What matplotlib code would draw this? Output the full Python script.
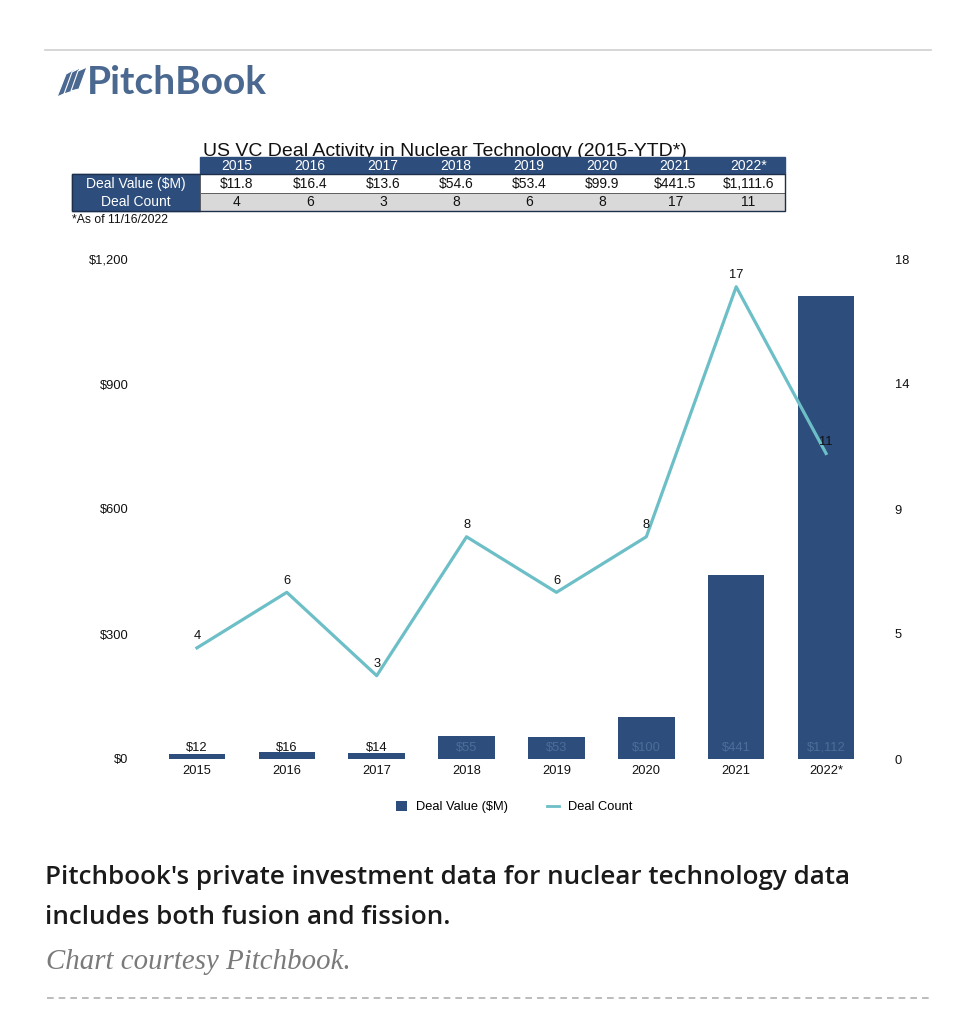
import matplotlib
matplotlib.use("Agg")
import matplotlib.pyplot as plt
from matplotlib.patches import Rectangle, Polygon
from matplotlib.lines import Line2D
from matplotlib.ticker import FuncFormatter

# ---------------- data ----------------
years = ["2015", "2016", "2017", "2018", "2019", "2020", "2021", "2022*"]
deal_value = [11.8, 16.4, 13.6, 54.6, 53.4, 99.9, 441.5, 1111.6]
deal_count = [4, 6, 3, 8, 6, 8, 17, 11]
deal_value_text = ["$11.8", "$16.4", "$13.6", "$54.6", "$53.4", "$99.9", "$441.5", "$1,111.6"]
bar_labels = ["$12", "$16", "$14", "$55", "$53", "$100", "$441", "$1,112"]
left_ticks = [0, 300, 600, 900, 1200]
right_ticks = [0, 4.5, 9, 13.5, 18]
right_tick_labels = ["0", "5", "9", "14", "18"]

NAVY = "#2d4e7c"
TEAL = "#6dbfc7"
LOGO = "#4b6990"
W, H = 977, 1024

fig = plt.figure(figsize=(W / 100, H / 100), dpi=100)
fig.patch.set_facecolor("white")

# full-figure overlay in pixel coordinates for page decoration
bg = fig.add_axes([0, 0, 1, 1], zorder=0)
bg.set_xlim(0, W)
bg.set_ylim(H, 0)
bg.axis("off")

# top rule
bg.plot([45, 931], [50, 50], color="#cfcfcf", lw=1.2)

# logo icon (sail shapes)
bg.add_patch(Polygon([(57, 97), (66, 74), (75, 69), (66, 93)], closed=True,
                     facecolor=LOGO, edgecolor="white", lw=0.8))
bg.add_patch(Polygon([(64, 94), (72, 72), (80, 68), (73, 91)], closed=True,
                     facecolor=LOGO, edgecolor="white", lw=0.8))
bg.add_patch(Polygon([(71, 91), (78, 71), (87, 67), (79, 89)], closed=True,
                     facecolor=LOGO, edgecolor="white", lw=0.8))
bg.text(87, 82, "PitchBook", fontsize=28, color=LOGO, fontfamily="Lato",
        fontweight="bold", va="center", ha="left")

# ---------------- table ----------------
tx0, tx1 = 200, 785
lx0 = 72
cw = (tx1 - tx0) / len(years)
hy0, hy1 = 157, 174
r1y0, r1y1 = 174, 193
r2y0, r2y1 = 193, 211
tfont = dict(fontfamily="Liberation Sans", fontsize=10)

bg.text((tx0 + tx1) / 2 - 48, 160, "US VC Deal Activity in Nuclear Technology (2015-YTD*)",
        fontfamily="Liberation Sans", fontsize=14, color="#111", ha="center",
        va="bottom", zorder=1)
bg.add_patch(Rectangle((tx0, hy0), tx1 - tx0, hy1 - hy0, facecolor=NAVY, edgecolor=NAVY, zorder=2))
bg.add_patch(Rectangle((lx0, r1y0), tx0 - lx0, r2y1 - r1y0, facecolor=NAVY, edgecolor=NAVY, zorder=2))
bg.add_patch(Rectangle((tx0, r1y0), tx1 - tx0, r1y1 - r1y0, facecolor="white", edgecolor="#555", lw=0.6, zorder=2))
bg.add_patch(Rectangle((tx0, r2y0), tx1 - tx0, r2y1 - r2y0, facecolor="#d9d9d9", edgecolor="#555", lw=0.6, zorder=2))
bg.add_patch(Rectangle((lx0, hy1), tx1 - lx0, r2y1 - hy1, facecolor="none", edgecolor="#1d2f4a", lw=1.0, zorder=3))
for i, y in enumerate(years):
    cx = tx0 + cw * (i + 0.5)
    bg.text(cx, (hy0 + hy1) / 2 + 0.5, y, color="white", ha="center", va="center", zorder=4, **tfont)
    bg.text(cx, (r1y0 + r1y1) / 2 + 0.5, deal_value_text[i], color="#111", ha="center", va="center", zorder=4, **tfont)
    bg.text(cx, (r2y0 + r2y1) / 2 + 0.5, str(deal_count[i]), color="#111", ha="center", va="center", zorder=4, **tfont)
bg.text((lx0 + tx0) / 2, (r1y0 + r1y1) / 2 + 0.5, "Deal Value ($M)", color="white", ha="center", va="center", zorder=4, **tfont)
bg.text((lx0 + tx0) / 2, (r2y0 + r2y1) / 2 + 0.5, "Deal Count", color="white", ha="center", va="center", zorder=4, **tfont)
bg.text(lx0, 220, "*As of 11/16/2022", color="#111", ha="left", va="center",
        fontfamily="Liberation Sans", fontsize=8.8)

# ---------------- chart ----------------
ax = fig.add_axes([152 / W, 1 - 759 / H, 719 / W, 500 / H], zorder=2)
ax.patch.set_alpha(0)
x = list(range(len(years)))
ax.bar(x, deal_value, width=0.63, color=NAVY, label="Deal Value ($M)", zorder=1)
ax.set_xlim(-0.5, len(years) - 0.5)
ax.set_ylim(0, 1200)
ax.set_yticks(left_ticks)
ax.yaxis.set_major_formatter(FuncFormatter(lambda v, p: f"${v:,.0f}"))
ax.set_xticks(x)
ax.set_xticklabels(years)
for s in ax.spines.values():
    s.set_visible(False)
ax.tick_params(axis="both", length=0, labelsize=9.3, labelcolor="#111")
ax.tick_params(axis="y", pad=17)
ax.tick_params(axis="x", pad=4)
for lab in ax.get_xticklabels() + ax.get_yticklabels():
    lab.set_fontfamily("Liberation Sans")

for i, v in enumerate(deal_value):
    col = "#111" if v < 30 else "#4d6d98"
    ax.annotate(bar_labels[i], xy=(i, 0), xytext=(0, 8), textcoords="offset points",
                ha="center", va="center", fontsize=9.3, color=col,
                fontfamily="Liberation Sans", zorder=3)

ax2 = ax.twinx()
ax2.set_zorder(3)
ax2.patch.set_alpha(0)
ax2.plot(x, deal_count, color=TEAL, lw=2.3, label="Deal Count", zorder=2)
ax2.set_ylim(0, 18)
ax2.set_yticks(right_ticks)
ax2.set_yticklabels(right_tick_labels)
for s in ax2.spines.values():
    s.set_visible(False)
ax2.tick_params(axis="y", length=0, labelsize=9.3, labelcolor="#111", pad=17)
for lab in ax2.get_yticklabels():
    lab.set_fontfamily("Liberation Sans")
for i, c in enumerate(deal_count):
    ax2.annotate(str(c), xy=(i, c), xytext=(0, 8.5), textcoords="offset points",
                 ha="center", va="center", fontsize=9.3, color="#111",
                 fontfamily="Liberation Sans")

handles = [Rectangle((0, 0), 1, 1, facecolor=NAVY),
           Line2D([0], [0], color=TEAL, lw=2)]
fig.legend(handles, ["Deal Value ($M)", "Deal Count"], loc="center",
           bbox_to_anchor=(514 / W, 1 - 807 / H), ncol=2, frameon=False,
           prop={"family": "Liberation Sans", "size": 9.3}, handlelength=0.9,
           handleheight=0.9, columnspacing=3.0, handletextpad=0.7)

# ---------------- caption ----------------
cap = dict(fontfamily="Open Sans", fontweight="semibold", fontsize=18.7, color="#1a1a1a", va="center")
bg.text(45, 877, "Pitchbook's private investment data for nuclear technology data", **cap)
bg.text(45, 917, "includes both fusion and fission.", **cap)
bg.text(46, 962, "Chart courtesy Pitchbook.", fontfamily="Liberation Serif",
        style="italic", fontsize=20.8, color="#7a7a7a", va="center")
bg.plot([47, 931], [998, 998], color="#b0b0b0", lw=1.2, linestyle=(0, (4, 3)))

fig.savefig("out.png", dpi=100, facecolor="white")
